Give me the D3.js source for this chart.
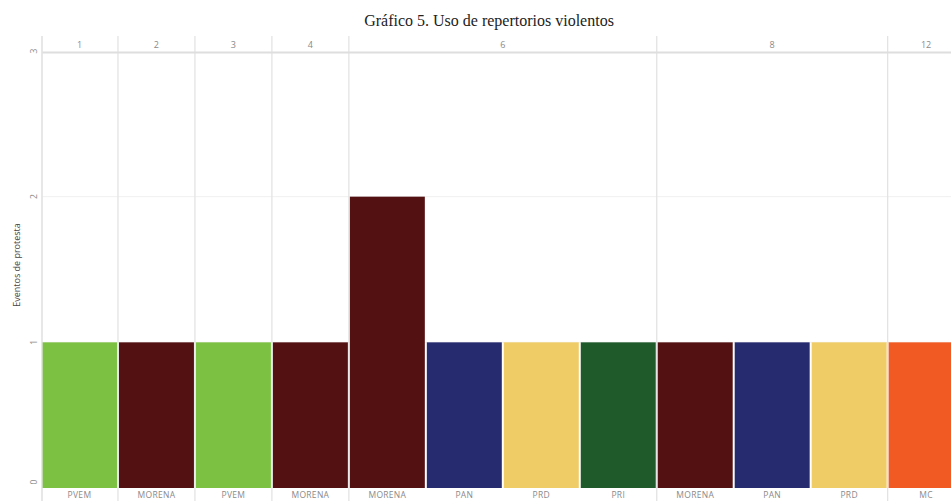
<!DOCTYPE html>
<html><head><meta charset="utf-8">
<script src="https://cdn.jsdelivr.net/npm/d3@7"></script>
<style>body{margin:0;background:#fff;overflow:hidden}svg{display:block}</style>
</head><body>
<script>
const groups = ["1","2","3","4","6","6","6","6","8","8","8","12"];
const parties = ["PVEM","MORENA","PVEM","MORENA","MORENA","PAN","PRD","PRI","MORENA","PAN","PRD","MC"];
const values = [1,1,1,1,2,1,1,1,1,1,1,1];
const yTicks = [0,1,2,3];
const partyNames = ["PVEM","MORENA","PAN","PRD","PRI","MC"];
const partyColors = ["#7cc142","#541112","#262b70","#f0cc66","#1f5a2b","#f15a22"];

const W = 951, H = 501;
const svg = d3.select("body").append("svg").attr("width", W).attr("height", H);
const color = d3.scaleOrdinal().domain(partyNames).range(partyColors);
const idx = d3.range(values.length);
const x = d3.scaleBand().domain(idx).range([42, 42 + 12 * 76.8]).paddingInner(0.026).paddingOuter(0);
const y = d3.scaleLinear().domain([0, 3]).range([488, 51]);

// title
svg.append("text").attr("x", 489).attr("y", 26).attr("text-anchor", "middle")
  .attr("font-family", "Liberation Serif, Times New Roman, serif").attr("font-size", 16)
  .attr("fill", "#222").text("Gráfico 5. Uso de repertorios violentos");

// horizontal grid
svg.append("g").selectAll("line").data([1, 2]).join("line")
  .attr("x1", 42).attr("x2", W).attr("y1", d => y(d)).attr("y2", d => y(d))
  .attr("stroke", "#f0f0f0").attr("stroke-width", 1);

// group boundaries
const grpStarts = [];
groups.forEach((g, i) => { if (i === 0 || groups[i - 1] !== g) grpStarts.push(i); });
const step = x.step();
const boundaries = grpStarts.map(i => x(i) - (i === 0 ? 0 : step * x.paddingInner() / 2));
svg.append("g").selectAll("line").data(boundaries).join("line")
  .attr("x1", d => d).attr("x2", d => d).attr("y1", 36).attr("y2", H)
  .attr("stroke", "#e3e3e3").attr("stroke-width", 1.3);

// header line
svg.append("line").attr("x1", 42).attr("x2", W).attr("y1", 52.5).attr("y2", 52.5)
  .attr("stroke", "#dedede").attr("stroke-width", 2);

// group labels
const grpCenters = grpStarts.map((s, k) => {
  const e = k + 1 < grpStarts.length ? grpStarts[k + 1] : groups.length;
  return { g: groups[s], c: (x(s) + x(e - 1) + x.bandwidth()) / 2 };
});
svg.append("g").selectAll("text").data(grpCenters).join("text")
  .attr("x", d => d.c).attr("y", 48).attr("text-anchor", "middle")
  .attr("font-family", "Open Sans, sans-serif").attr("font-size", 9).attr("fill", "#8a8a8a")
  .text(d => d.g);

// bars
svg.append("g").selectAll("rect").data(idx).join("rect")
  .attr("x", i => x(i)).attr("width", x.bandwidth())
  .attr("y", i => y(values[i])).attr("height", i => y(0) - y(values[i]))
  .attr("fill", i => color(parties[i]));

// bottom labels
svg.append("g").selectAll("text").data(idx).join("text")
  .attr("x", i => x(i) + x.bandwidth() / 2).attr("y", 498).attr("text-anchor", "middle")
  .attr("font-family", "Open Sans, sans-serif").attr("font-size", 8.5).attr("fill", "#8a8a8a")
  .attr("letter-spacing", 0.3)
  .text(i => parties[i]);

// y axis line
svg.append("line").attr("x1", 42).attr("x2", 42).attr("y1", 36).attr("y2", H)
  .attr("stroke", "#e3e3e3").attr("stroke-width", 1.3);

// y tick labels (rotated)
svg.append("g").selectAll("text").data(yTicks).join("text")
  .attr("transform", d => `translate(37,${Math.min(y(d), 482)}) rotate(-90)`)
  .attr("text-anchor", "middle")
  .attr("font-family", "Open Sans, sans-serif").attr("font-size", 8.5).attr("fill", "#8a8a8a")
  .text(d => d);

// y title
svg.append("text").attr("transform", "translate(20,265) rotate(-90)").attr("text-anchor", "middle")
  .attr("font-family", "Open Sans, sans-serif").attr("font-size", 9).attr("fill", "#444")
  .text("Eventos de protesta");
</script>
</body></html>
